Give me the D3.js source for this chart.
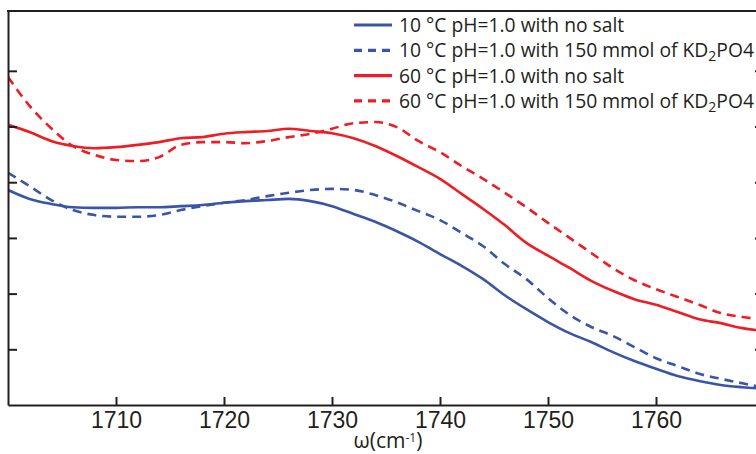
<!DOCTYPE html>
<html>
<head>
<meta charset="utf-8">
<script src="https://cdn.jsdelivr.net/npm/d3@7"></script>
<style>
  html, body { margin: 0; padding: 0; background: #fff; }
  svg { display: block; font-family: 'Open Sans', 'Noto Sans', sans-serif; }
</style>
</head>
<body>
<div id="chart"></div>
<script>
// wavenumbers (cm-1), one sample every 2 cm-1
const wavenumbers = [1700, 1702, 1704, 1706, 1708, 1710, 1712, 1714, 1716, 1718, 1720, 1722,
  1724, 1726, 1728, 1730, 1732, 1734, 1736, 1738, 1740, 1742, 1744, 1746,
  1748, 1750, 1752, 1754, 1756, 1758, 1760, 1762, 1764, 1766, 1768, 1770];

const blueNoSalt = [0.386, 0.370, 0.361, 0.355, 0.354, 0.354, 0.355, 0.355, 0.357, 0.359, 0.363, 0.366,
  0.368, 0.370, 0.366, 0.357, 0.343, 0.329, 0.312, 0.293, 0.271, 0.250, 0.226, 0.197,
  0.172, 0.149, 0.129, 0.113, 0.095, 0.079, 0.065, 0.052, 0.043, 0.036, 0.032, 0.029];

const blueSalt = [0.417, 0.393, 0.368, 0.350, 0.341, 0.338, 0.338, 0.341, 0.350, 0.357, 0.363, 0.368,
  0.375, 0.381, 0.386, 0.388, 0.386, 0.377, 0.364, 0.348, 0.332, 0.309, 0.285, 0.253,
  0.226, 0.192, 0.162, 0.140, 0.124, 0.104, 0.084, 0.070, 0.056, 0.047, 0.039, 0.031];

const redNoSalt = [0.503, 0.490, 0.474, 0.465, 0.461, 0.463, 0.467, 0.472, 0.479, 0.481, 0.487, 0.490,
  0.492, 0.496, 0.492, 0.488, 0.479, 0.465, 0.447, 0.427, 0.406, 0.379, 0.352, 0.323,
  0.291, 0.268, 0.246, 0.223, 0.205, 0.190, 0.180, 0.167, 0.154, 0.147, 0.138, 0.133];

const redSalt = [0.589, 0.537, 0.497, 0.465, 0.449, 0.440, 0.438, 0.445, 0.467, 0.472, 0.472, 0.470,
  0.474, 0.481, 0.487, 0.496, 0.506, 0.508, 0.499, 0.474, 0.454, 0.429, 0.406, 0.381,
  0.355, 0.327, 0.300, 0.273, 0.246, 0.224, 0.208, 0.194, 0.180, 0.165, 0.158, 0.153];

const xTicks = [1710, 1720, 1730, 1740, 1750, 1760];
const yTicks = [0.1, 0.2, 0.3, 0.4, 0.5, 0.6];

const seriesNames = [
  ['10 °C pH=1.0 with no salt'],
  ['10 °C pH=1.0 with 150 mmol of KD', '2', 'PO4'],
  ['60 °C pH=1.0 with no salt'],
  ['60 °C pH=1.0 with 150 mmol of KD', '2', 'PO4'],
];
const seriesValues = [blueNoSalt, blueSalt, redNoSalt, redSalt];

(function(d3) {
  const width = 756;
  const height = 454;
  const margin = { top: 11, left: 8, bottom: 49 };
  const plotRight = 764; // frame runs a little past the window edge
  const blue = '#3a55a5';
  const red = '#ee1d25';
  const ink = '#231f20';
  const styles = [
    { color: blue, dash: null },
    { color: blue, dash: '9,6' },
    { color: red, dash: null },
    { color: red, dash: '9,6' },
  ];

  const svg = d3
    .select('#chart')
    .append('svg')
    .attr('width', width)
    .attr('height', height);

  const x = d3.scaleLinear().domain([1700, 1770]).range([margin.left, plotRight]);
  const y = d3
    .scaleLinear()
    .domain([0, 0.7074])
    .range([height - margin.bottom, margin.top]);

  svg
    .append('clipPath')
    .attr('id', 'plot-clip')
    .append('rect')
    .attr('x', margin.left)
    .attr('y', margin.top)
    .attr('width', plotRight - margin.left)
    .attr('height', height - margin.bottom - margin.top);

  // Curves
  const line = d3
    .line()
    .x(d => x(d[0]))
    .y(d => y(d[1]))
    .curve(d3.curveMonotoneX);

  const linesG = svg.append('g').attr('clip-path', 'url(#plot-clip)');
  seriesValues.forEach((vals, i) => {
    linesG
      .append('path')
      .datum(wavenumbers.map((w, j) => [w, vals[j]]))
      .attr('fill', 'none')
      .attr('stroke', styles[i].color)
      .attr('stroke-width', 2.6)
      .attr('stroke-dasharray', styles[i].dash)
      .attr('d', line);
  });

  // Axes (ticks point inward, no y labels)
  const xAxisG = svg
    .append('g')
    .attr('transform', `translate(0,${height - margin.bottom})`)
    .call(d3.axisBottom(x).tickValues(xTicks).tickSizeInner(-8).tickSizeOuter(0).tickFormat(d3.format('d')));
  xAxisG
    .selectAll('text')
    .attr('y', 23)
    .attr('dy', 0)
    .attr('fill', ink)
    .style('font-size', '23px');

  const yAxisG = svg
    .append('g')
    .attr('transform', `translate(${margin.left},0)`)
    .call(d3.axisLeft(y).tickValues(yTicks).tickSizeInner(-9).tickSizeOuter(0).tickFormat(''));

  const rightG = svg
    .append('g')
    .attr('transform', `translate(${plotRight},0)`)
    .call(d3.axisRight(y).tickValues(yTicks).tickSizeInner(-9).tickSizeOuter(0).tickFormat(''));

  [xAxisG, yAxisG, rightG].forEach(g => {
    g.select('.domain').attr('stroke', ink).attr('stroke-width', 2);
    g.selectAll('.tick line').attr('stroke', ink).attr('stroke-width', 2);
  });

  svg
    .append('line')
    .attr('x1', margin.left - 1)
    .attr('x2', plotRight)
    .attr('y1', margin.top)
    .attr('y2', margin.top)
    .attr('stroke', ink)
    .attr('stroke-width', 2);

  // x label
  const xLabel = svg
    .append('text')
    .attr('x', 388)
    .attr('y', 448)
    .attr('text-anchor', 'middle')
    .attr('fill', ink)
    .style('font-size', '21px');
  xLabel.append('tspan').text('ω(cm');
  xLabel.append('tspan').attr('dy', -6).style('font-size', '12px').text('-1');
  xLabel.append('tspan').attr('dy', 6).text(')');

  // Legend
  const legend = svg.append('g').attr('transform', 'translate(354,25)');
  seriesNames.forEach((parts, i) => {
    const row = legend.append('g').attr('transform', `translate(0,${i * 25.3})`);
    row
      .append('line')
      .attr('x1', 0)
      .attr('x2', 38)
      .attr('stroke', styles[i].color)
      .attr('stroke-width', 3.2)
      .attr('stroke-dasharray', styles[i].dash ? '8,6' : null);
    const t = row
      .append('text')
      .attr('x', 45)
      .attr('y', 7)
      .attr('fill', ink)
      .style('font-size', '19.3px');
    t.append('tspan').text(parts[0]);
    if (parts.length > 1) {
      t.append('tspan').attr('dy', 4).style('font-size', '14px').text(parts[1]);
      t.append('tspan').attr('dy', -4).text(parts[2]);
    }
  });
})(d3);
</script>
</body>
</html>
